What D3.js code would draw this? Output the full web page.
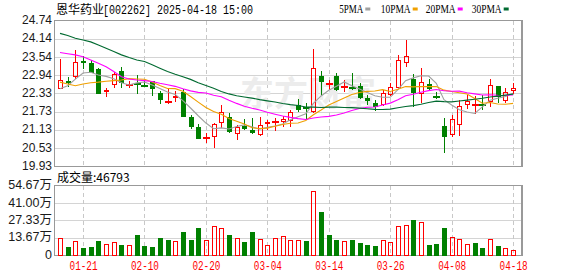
<!DOCTYPE html>
<html><head><meta charset="utf-8">
<script src="https://cdn.jsdelivr.net/npm/d3@7/dist/d3.min.js"></script>
<style>body{margin:0;background:#fff}svg{display:block}</style>
</head><body>
<svg id="c" width="578" height="276"></svg>
<script>
const dates = ["01-16","01-17","01-20","01-21","01-22","01-23","01-24","01-27",
"02-05","02-06","02-07","02-10","02-11","02-12","02-13","02-14","02-17","02-18","02-19","02-20","02-21","02-24","02-25","02-26","02-27","02-28",
"03-03","03-04","03-05","03-06","03-07","03-10","03-11","03-12","03-13","03-14","03-17","03-18","03-19","03-20","03-21","03-24","03-25","03-26","03-27","03-28","03-31",
"04-01","04-02","04-03","04-07","04-08","04-09","04-10","04-11","04-14","04-15","04-16","04-17","04-18"];
const opens = [22.50,22.76,22.90,23.43,23.36,23.14,22.38,22.61,23.09,22.64,
22.70,22.61,22.74,22.35,22.08,22.21,22.40,21.56,21.25,20.86,
20.92,21.36,21.56,20.99,21.27,21.14,20.96,21.32,21.43,21.41,
21.45,21.95,21.91,21.74,22.92,22.66,22.92,22.57,22.57,22.59,
22.20,22.02,21.95,22.30,22.54,23.34,22.81,22.33,22.65,22.26,
21.27,20.97,21.29,21.95,21.97,22.00,22.06,22.59,22.09,22.44];
const closes = [22.79,22.68,23.37,23.36,23.03,22.33,22.46,22.98,22.70,22.66,
22.67,22.60,22.48,22.13,22.10,22.26,21.58,21.25,20.85,20.89,
21.33,21.72,21.06,21.25,21.16,21.03,21.30,21.40,21.45,21.49,
21.73,21.80,21.88,23.18,22.72,22.68,22.46,22.59,22.55,22.19,
22.09,21.91,22.35,22.55,23.45,23.58,22.37,22.71,22.49,22.24,
20.89,21.49,21.93,22.11,21.99,21.98,22.61,22.24,22.40,22.53];
const highs = [23.48,22.88,23.78,23.58,23.45,23.18,22.52,23.07,23.23,22.76,
22.95,22.79,22.76,22.42,22.48,22.44,22.48,21.64,21.34,21.03,
21.36,21.96,21.71,21.29,21.50,21.54,21.56,21.47,21.52,21.59,
21.80,22.15,22.04,23.80,23.09,22.79,23.01,22.79,23.01,22.68,
22.30,22.13,22.46,22.70,23.62,24.11,22.99,23.17,22.83,22.39,
21.54,21.63,22.13,22.30,22.26,22.30,22.81,22.59,22.52,22.70];
const lows = [22.48,22.57,22.83,23.14,23.01,22.33,22.24,22.54,22.54,22.52,
22.33,22.57,22.27,22.00,21.98,22.05,21.55,21.18,20.84,20.72,
20.53,21.19,21.05,20.79,21.14,21.01,20.94,21.14,21.10,21.25,
21.25,21.73,21.47,21.71,22.30,22.46,22.43,22.40,22.46,22.15,
21.97,21.77,21.93,22.26,22.52,23.21,21.89,22.02,22.46,22.17,
20.39,20.90,20.95,21.84,21.66,21.80,21.89,22.02,22.04,22.33];
// volume in 万 (10k shares)
const volumes = [13.4,6.6,11.3,5.8,6.6,11.3,8.9,10.5,8.1,8.1,
16.0,7.4,6.6,13.7,12.1,11.3,18.4,12.1,21.5,12.1,
23.1,21.5,16.0,13.7,10.5,18.4,12.6,8.1,13.4,15.2,
12.1,12.1,11.3,50.5,34.2,16.0,12.1,11.3,12.1,9.7,
8.1,7.4,12.1,10.5,23.1,23.9,27.9,26.3,8.1,8.9,
21.5,14.5,12.9,8.9,9.7,5.8,12.9,7.4,5.8,4.68];
const volumeUp = [1,0,1,0,0,0,1,1,0,1, 0,0,0,0,0,1,0,0,0,1, 1,1,0,1,0,0,1,1,1,1,
1,1,0,1,0,0,0,1,0,0, 0,0,1,1,1,1,0,1,0,0, 0,1,1,1,0,0,1,0,1,1];
// moving-average values before enough in-window history exists
const ma5Lead = [22.50,22.60,22.82,23.02];
const ma10Lead = [22.72,22.66,22.60,22.66,22.70,22.72,22.75,22.77,22.79];
const ma20Lead = [23.70,23.66,23.62,23.56,23.45,23.34,23.23,23.07,22.90,22.82,22.79,22.77,22.74,22.68,22.63,22.58,22.50,22.43,22.38];
const ma30Lead = [24.33,24.26,24.17,24.11,24.05,23.95,23.84,23.73,23.62,23.53,23.45,23.40,23.29,23.18,23.07,22.98,22.90,22.81,22.70,22.61,22.52,22.41,22.33,22.27,22.23,22.19,22.14,22.10,22.06];
const priceTicks = [24.74,24.14,23.54,22.94,22.33,21.73,21.13,20.53,19.93];
const volTicks = [54.67,41.00,27.33,13.67,0];
const dateTicks = ["01-21","02-10","02-20","03-04","03-14","03-26","04-08","04-18"];
const maNames = ["5PMA","10PMA","20PMA","30PMA"];
const maColors = ["#a0a0a0","#f0a000","#ff00ff","#006a30"];
const lastVolume = "46793";

const UP = "#ff0000", DOWN = "#008000";
const L = 55, R = 522, T = 21, B = 166.5, VT = 186, VB = 255.5;
const svg = d3.select("#c");
const xs = d3.scaleLinear().domain([0, dates.length - 1]).range([60, 513.1]);
const ys = d3.scaleLinear().domain([19.93, 24.74]).range([B, T]);
const vs = d3.scaleLinear().domain([0, 54.67]).range([VB, VT]);

function ma(n, lead) {
  return closes.map((c, i) => i < n - 1 ? lead[i] : d3.mean(closes.slice(i - n + 1, i + 1)));
}
const maSeries = [ma(5, ma5Lead), ma(10, ma10Lead), ma(20, ma20Lead), ma(30, ma30Lead)];

// gridlines
const g = svg.append("g").attr("shape-rendering", "crispEdges");
g.selectAll(".hp").data(priceTicks.slice(1, -1)).join("line")
  .attr("x1", L).attr("x2", R).attr("y1", d => ys(d)).attr("y2", d => ys(d))
  .attr("stroke", "#d4d4d4");
g.selectAll(".hv").data(volTicks.slice(1, -1)).join("line")
  .attr("x1", L).attr("x2", R).attr("y1", d => vs(d)).attr("y2", d => vs(d))
  .attr("stroke", "#d4d4d4");
dateTicks.forEach(t => {
  const x = Math.round(xs(dates.indexOf(t))) + 0.5;
  [[T, B], [VT, VB]].forEach(([a, b]) => g.append("line")
    .attr("x1", x).attr("x2", x).attr("y1", a).attr("y2", b)
    .attr("stroke", "#c8c8c8").attr("stroke-dasharray", "4,3"));
});

// watermark
svg.append("text").attr("x", 240).attr("y", 106).text("东方财富")
  .attr("font-family", "Noto Sans CJK SC").attr("font-size", 34).attr("font-weight", "bold")
  .attr("fill", "#ececec");

// borders
[[T, B], [VT, VB]].forEach(([a, b]) => {
  g.append("rect").attr("x", L - 0.5).attr("y", a - 0.5).attr("width", R - L).attr("height", b - a)
    .attr("fill", "none").attr("stroke", "#999");
  g.append("line").attr("x1", R).attr("x2", R).attr("y1", a - 1).attr("y2", b)
    .attr("stroke", "#999").attr("stroke-width", 2);
});

// candles
const cg = svg.append("g").attr("shape-rendering", "crispEdges");
dates.forEach((d, i) => {
  const cx = Math.round(xs(i)) + 0.5;
  const o = opens[i], c = closes[i], up = c >= o;
  const yTop = Math.round(ys(Math.max(o, c))), yBot = Math.round(ys(Math.min(o, c)));
  const yH = Math.round(ys(highs[i])), yL = Math.round(ys(lows[i]));
  if (up) {
    const h = Math.max(yBot - yTop, 1);
    cg.append("line").attr("x1", cx).attr("x2", cx).attr("y1", yH).attr("y2", yTop).attr("stroke", UP);
    cg.append("line").attr("x1", cx).attr("x2", cx).attr("y1", yTop + h).attr("y2", yL).attr("stroke", UP);
    if (yBot - yTop >= 2) {
      cg.append("rect").attr("x", cx - 2).attr("y", yTop + 0.5).attr("width", 4).attr("height", h - 1)
        .attr("fill", "none").attr("stroke", UP);
    } else {
      cg.append("rect").attr("x", cx - 3.5).attr("y", yTop).attr("width", 7).attr("height", Math.max(h, 1.5)).attr("fill", UP);
    }
  } else {
    cg.append("line").attr("x1", cx).attr("x2", cx).attr("y1", yH).attr("y2", yL).attr("stroke", DOWN);
    const h = Math.max(yBot - yTop, 1.5);
    const w = yBot - yTop >= 2 ? 5 : 7;
    cg.append("rect").attr("x", cx - w / 2).attr("y", yTop).attr("width", w).attr("height", h).attr("fill", DOWN);
  }
  // volume
  const vy = Math.round(vs(volumes[i])), vb = Math.round(VB);
  if (volumeUp[i]) {
    cg.append("rect").attr("x", cx - 2).attr("y", vy + 0.5).attr("width", 4).attr("height", vb - vy - 1)
      .attr("fill", "none").attr("stroke", UP);
  } else {
    cg.append("rect").attr("x", cx - 2.5).attr("y", vy).attr("width", 5).attr("height", vb - vy).attr("fill", DOWN);
  }
});

// moving averages
const line = d3.line().x((d, i) => xs(i)).y(d => ys(d));
maSeries.forEach((s, k) => {
  svg.append("path").attr("d", line(s)).attr("fill", "none")
    .attr("stroke", maColors[k]).attr("stroke-width", 1.1);
});

// axes
const ya = svg.append("g").attr("transform", `translate(${L - 1},0)`)
  .call(d3.axisLeft(ys).tickValues(priceTicks).tickSize(0).tickPadding(2).tickFormat(d => d.toFixed(2)));
ya.select(".domain").remove();
ya.selectAll("text").attr("dy", "0.22em").attr("font-family", "Liberation Sans, Arial").attr("font-size", 12.5)
  .attr("fill", "#1a1a1a").attr("textLength", 30).attr("lengthAdjust", "spacingAndGlyphs");
const va = svg.append("g").attr("transform", `translate(${L - 1},0)`)
  .call(d3.axisLeft(vs).tickValues(volTicks).tickSize(0).tickPadding(2)
    .tickFormat(d => d === 0 ? "0" : d.toFixed(2) + "万"));
va.select(".domain").remove();
va.selectAll("text").attr("dy", "0.22em").attr("font-family", "Liberation Sans, Noto Sans CJK SC").attr("font-size", 12.5)
  .attr("fill", "#1a1a1a");
const xa = svg.append("g").attr("transform", `translate(0,${VB})`)
  .call(d3.axisBottom(xs).tickValues(dateTicks.map(t => dates.indexOf(t))).tickSize(0).tickPadding(6)
    .tickFormat(i => dates[i]));
xa.select(".domain").remove();
xa.selectAll("text").attr("font-family", "Liberation Mono, monospace").attr("font-size", 12)
  .attr("fill", UP).attr("textLength", 28).attr("lengthAdjust", "spacingAndGlyphs");

// title
svg.append("text").attr("x", 56).attr("y", 14).text("恩华药业")
  .attr("font-family", "Noto Sans CJK SC").attr("font-size", 12).attr("fill", "#000");
svg.append("text").attr("x", 103).attr("y", 13.5).text("[002262] 2025-04-18 15:00")
  .attr("font-family", "Liberation Mono, monospace").attr("font-size", 12).attr("fill", "#000")
  .attr("textLength", 150).attr("lengthAdjust", "spacingAndGlyphs");

// legend
const legX = [339.3, 380.7, 425.7, 471.7];
maNames.forEach((n, k) => {
  const w = n.length * 6;
  svg.append("text").attr("x", legX[k]).attr("y", 13).text(n)
    .attr("font-family", "Liberation Serif, serif").attr("font-size", 12).attr("fill", "#000")
    .attr("textLength", w).attr("lengthAdjust", "spacingAndGlyphs");
  svg.append("rect").attr("x", legX[k] + w + 2).attr("y", 7.5).attr("width", 5).attr("height", 3)
    .attr("fill", maColors[k]);
});

// volume label
svg.append("text").attr("x", 57).attr("y", 182).text("成交量:" + lastVolume)
  .attr("font-family", "Noto Sans CJK SC").attr("font-size", 12).attr("fill", "#000");
</script>
</body></html>
